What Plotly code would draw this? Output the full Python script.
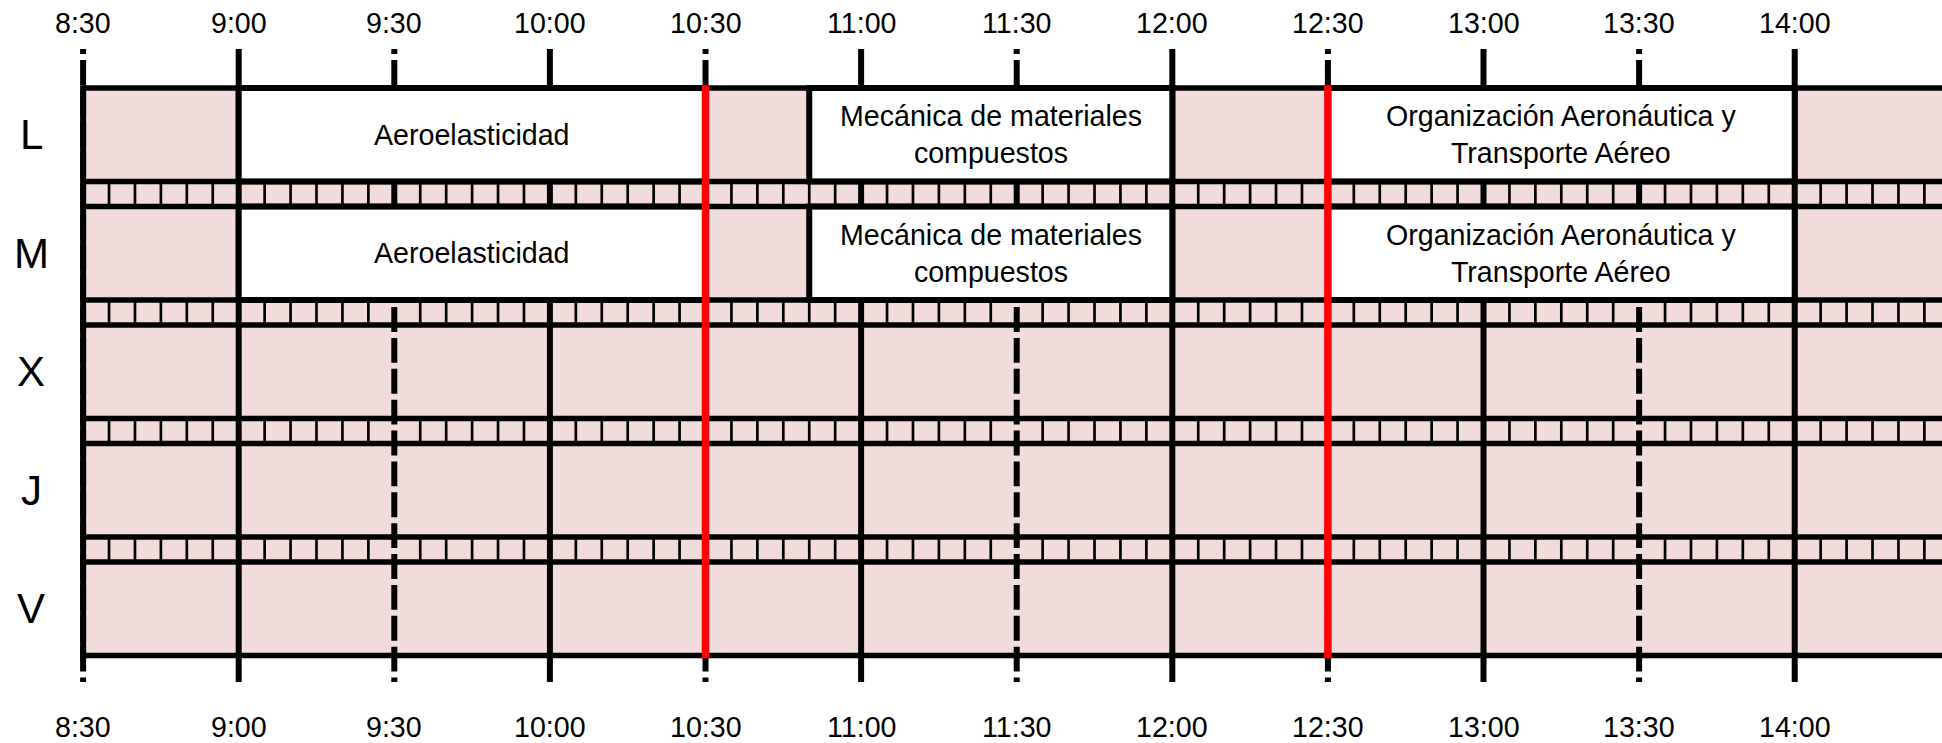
import plotly.graph_objects as go

# ---------------- data ----------------
days = ["L", "M", "X", "J", "V"]
tick_labels = ["8:30", "9:00", "9:30", "10:00", "10:30", "11:00",
               "11:30", "12:00", "12:30", "13:00", "13:30", "14:00"]
grid_start = "8:30"
grid_end = "14:30"
red_marks = ["10:30", "12:30"]

course_names = [
    "Aeroelasticidad",
    "Mecánica de materiales<br>compuestos",
    "Organización Aeronáutica y<br>Transporte Aéreo",
    "Aeroelasticidad",
    "Mecánica de materiales<br>compuestos",
    "Organización Aeronáutica y<br>Transporte Aéreo",
]
course_day = ["L", "L", "L", "M", "M", "M"]
course_start = ["9:00", "10:50", "12:30", "9:00", "10:50", "12:30"]
course_end = ["10:30", "12:00", "14:00", "10:30", "12:00", "14:00"]

cell_minutes = 5  # small cells in the separator bands


def t2m(s):
    h, m = map(int, s.split(":"))
    return h * 60 + m - (8 * 60 + 30)


# ---------------- geometry / style ----------------
W, H = 1942, 743
PX_PER_MIN = 5.1867
X0_PX = 83.1
TOP_PX = 88.0
PITCH_PX = 118.5
ROW_FRAC = 93.5 / 118.5
TICK_TOP_PX, TICK_BOT_PX = 49.0, 682.0
TICK_TOP = (TICK_TOP_PX - TOP_PX) / PITCH_PX
TICK_BOT = (TICK_BOT_PX - TOP_PX) / PITCH_PX
LBL_TOP = (23 - TOP_PX) / PITCH_PX
LBL_BOT = (727 - TOP_PX) / PITCH_PX
DAY_X = (31 - X0_PX) / PX_PER_MIN

PINK = "#F2DCDB"
BLACK = "#000000"
RED = "#FF0000"
FONT = "Liberation Sans, Arial, sans-serif"

# dashed half-hour lines: gaps of 6px repeating every ~30.9px, phase as in reference
GAP = 6.0
PERIOD = 30.875
N_PER = 20
first_dash = 5.0
last_dash = (TICK_BOT_PX - TICK_TOP_PX) - first_dash - GAP - N_PER * PERIOD
dash_list = [first_dash, GAP] + [PERIOD - GAP, GAP] * N_PER + [last_dash, 40]
DASH = ",".join(f"{v:.3f}px" for v in dash_list)

n_rows = len(days)
y_bottom = (n_rows - 1) + ROW_FRAC
gs, ge = t2m(grid_start), t2m(grid_end)

shapes = []
# pink background for the whole grid
shapes.append(dict(type="rect", xref="x", yref="y", x0=gs, x1=ge, y0=0, y1=y_bottom,
                   fillcolor=PINK, line=dict(width=0), layer="above"))

# thin 5-minute lines inside the separator bands
for i in range(n_rows - 1):
    b0, b1 = i + ROW_FRAC, i + 1
    for m in range(gs, ge + 1, cell_minutes):
        if m % 30 == 0:
            continue
        shapes.append(dict(type="line", xref="x", yref="y", x0=m, x1=m, y0=b0, y1=b1,
                           line=dict(color=BLACK, width=2.7)))

# hour (solid) and half-hour (dashed) lines
for m in range(gs, ge + 1, 30):
    full_hour = ((m + 30) % 60 == 0)
    shapes.append(dict(type="line", xref="x", yref="y", x0=m, x1=m, y0=TICK_TOP, y1=TICK_BOT,
                       line=dict(color=BLACK, width=6, dash="solid" if full_hour else DASH)))

# course boxes
for name, d, s, e in zip(course_names, course_day, course_start, course_end):
    r = days.index(d)
    shapes.append(dict(type="rect", xref="x", yref="y", x0=t2m(s), x1=t2m(e),
                       y0=r, y1=r + ROW_FRAC, fillcolor="white",
                       line=dict(color=BLACK, width=6)))

# horizontal row borders
for i in range(n_rows):
    for yy in (i, i + ROW_FRAC):
        shapes.append(dict(type="line", xref="x", yref="y", x0=gs, x1=ge, y0=yy, y1=yy,
                           line=dict(color=BLACK, width=5.5)))

# left border
shapes.append(dict(type="line", xref="x", yref="y", x0=gs, x1=gs, y0=-0.023, y1=y_bottom + 0.023,
                   line=dict(color=BLACK, width=6)))

# red marks
for t in red_marks:
    shapes.append(dict(type="line", xref="x", yref="y", x0=t2m(t), x1=t2m(t),
                       y0=-0.023, y1=y_bottom + 0.023, line=dict(color=RED, width=7.5)))

annotations = []
for lbl in tick_labels:
    for yy in (LBL_TOP, LBL_BOT):
        annotations.append(dict(x=t2m(lbl), y=yy, xref="x", yref="y", text=lbl,
                                showarrow=False, xanchor="center", yanchor="middle",
                                font=dict(family=FONT, size=28.6, color=BLACK)))
for i, d in enumerate(days):
    annotations.append(dict(x=DAY_X, y=i + ROW_FRAC / 2, xref="x", yref="y", text=d,
                            showarrow=False, xanchor="center", yanchor="middle",
                            font=dict(family=FONT, size=42, color=BLACK)))
for name, d, s, e in zip(course_names, course_day, course_start, course_end):
    r = days.index(d)
    annotations.append(dict(x=(t2m(s) + t2m(e)) / 2, y=r + ROW_FRAC / 2, xref="x", yref="y",
                            text=name, showarrow=False, xanchor="center", yanchor="middle",
                            font=dict(family=FONT, size=28.6, color=BLACK)))

fig = go.Figure()
fig.update_layout(
    width=W, height=H,
    margin=dict(l=0, r=0, t=0, b=0),
    paper_bgcolor="white", plot_bgcolor="white",
    showlegend=False,
    xaxis=dict(range=[-X0_PX / PX_PER_MIN, (W - X0_PX) / PX_PER_MIN], visible=False,
               fixedrange=True),
    yaxis=dict(range=[(H - TOP_PX) / PITCH_PX, -TOP_PX / PITCH_PX], visible=False,
               fixedrange=True),
    shapes=shapes,
    annotations=annotations,
)
fig.write_html("out.html", config={"displayModeBar": False},
               post_script="document.body.style.margin='0';document.body.style.overflow='hidden';")
